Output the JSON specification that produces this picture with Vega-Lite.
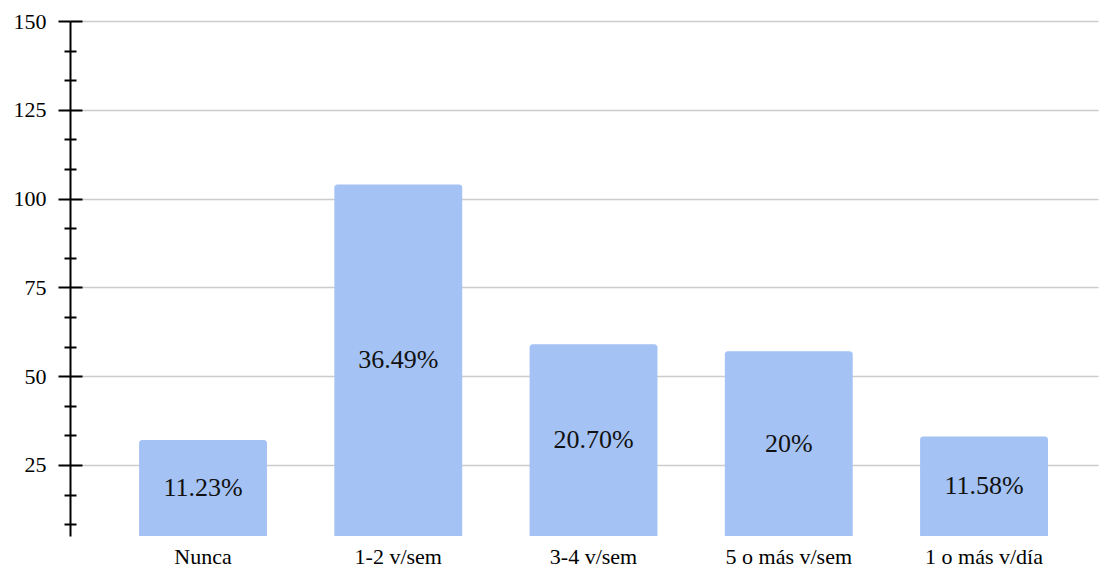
{
  "$schema": "https://vega.github.io/schema/vega-lite/v6.json",
  "width": 1028,
  "height": 515,
  "autosize": {"type": "none"},
  "padding": {"left": 70, "top": 21, "right": 3, "bottom": 33},
  "background": "white",
  "config": {
    "view": {"stroke": null},
    "font": "Liberation Serif",
    "text": {"font": "Liberation Serif"},
    "axis": {"labelFont": "Liberation Serif", "labelColor": "#000000", "title": null}
  },
  "data": {
    "values": [
      {"frecuencia": "Nunca", "count": 32, "pct": "11.23%"},
      {"frecuencia": "1-2 v/sem", "count": 104, "pct": "36.49%"},
      {"frecuencia": "3-4 v/sem", "count": 59, "pct": "20.70%"},
      {"frecuencia": "5 o más v/sem", "count": 57, "pct": "20%"},
      {"frecuencia": "1 o más v/día", "count": 33, "pct": "11.58%"}
    ]
  },
  "encoding": {
    "x": {
      "field": "frecuencia", "type": "nominal", "sort": null,
      "scale": {"paddingInner": 0.345, "paddingOuter": 0.305, "align": 0.58},
      "axis": {"labelAngle": 0, "ticks": false, "domain": false, "labelPadding": 10, "labelFontSize": 22, "labelColor": "#000000"}
    }
  },
  "resolve": {"axis": {"y": "independent"}},
  "layer": [
    {
      "mark": {"type": "bar", "color": "#a4c2f4", "cornerRadiusTopLeft": 3, "cornerRadiusTopRight": 3},
      "encoding": {
        "y": {
          "field": "count", "type": "quantitative",
          "scale": {"domain": [5, 150], "zero": false, "nice": false},
          "axis": {
            "orient": "left",
            "values": [25, 50, 75, 100, 125, 150],
            "grid": true, "gridColor": "#cccccc", "gridWidth": 1.5,
            "domain": true, "domainColor": "#000000", "domainWidth": 2,
            "ticks": true, "tickColor": "#000000", "tickWidth": 2, "tickSize": 12,
            "labelFontSize": 22, "labelPadding": 12
          }
        },
        "y2": {"datum": 5}
      }
    },
    {
      "transform": [{"calculate": "(datum.count + 5) / 2", "as": "mid"}],
      "mark": {"type": "text", "font": "Liberation Serif", "fontSize": 26, "color": "#111111", "baseline": "middle", "align": "center"},
      "encoding": {
        "y": {"field": "mid", "type": "quantitative", "scale": {"domain": [5, 150], "zero": false, "nice": false}, "axis": null},
        "text": {"field": "pct"}
      }
    },
    {
      "mark": {"type": "tick", "opacity": 0},
      "encoding": {
        "y": {
          "field": "count", "type": "quantitative",
          "scale": {"domain": [5, 150], "zero": false, "nice": false},
          "axis": {
            "orient": "left", "offset": -12,
            "values": [25, 50, 75, 100, 125, 150],
            "grid": false, "domain": false, "labels": false,
            "ticks": true, "tickColor": "#000000", "tickWidth": 2, "tickSize": 12
          }
        }
      }
    },
    {
      "mark": {"type": "tick", "opacity": 0},
      "encoding": {
        "y": {
          "field": "count", "type": "quantitative",
          "scale": {"domain": [5, 150], "zero": false, "nice": false},
          "axis": {
            "orient": "left", "offset": 0,
            "values": [8.333, 16.667, 33.333, 41.667, 58.333, 66.667, 83.333, 91.667, 108.333, 116.667, 133.333, 141.667],
            "grid": false, "domain": false, "labels": false,
            "ticks": true, "tickColor": "#000000", "tickWidth": 2, "tickSize": 6
          }
        }
      }
    },
    {
      "mark": {"type": "tick", "opacity": 0},
      "encoding": {
        "y": {
          "field": "count", "type": "quantitative",
          "scale": {"domain": [5, 150], "zero": false, "nice": false},
          "axis": {
            "orient": "left", "offset": -6,
            "values": [8.333, 16.667, 33.333, 41.667, 58.333, 66.667, 83.333, 91.667, 108.333, 116.667, 133.333, 141.667],
            "grid": false, "domain": false, "labels": false,
            "ticks": true, "tickColor": "#000000", "tickWidth": 2, "tickSize": 6
          }
        }
      }
    }
  ]
}
